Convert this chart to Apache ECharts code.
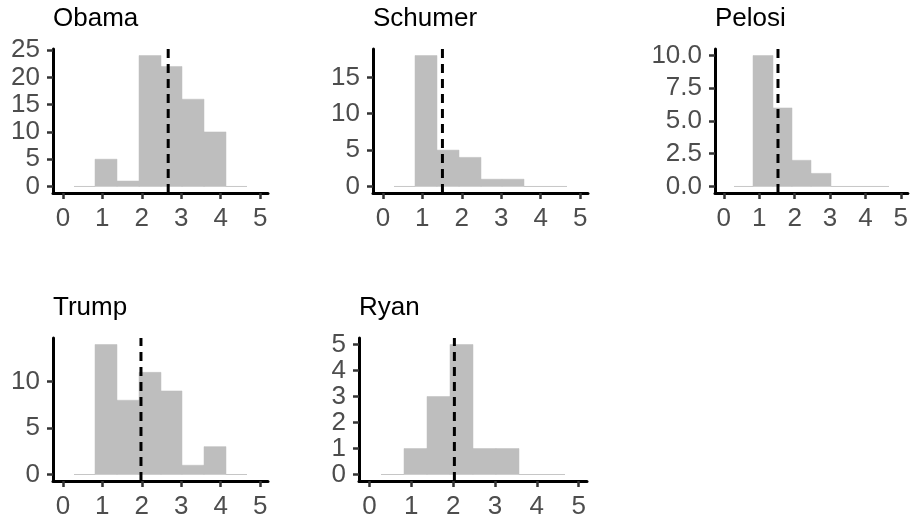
<!DOCTYPE html>
<html>
<head>
<meta charset="utf-8">
<script src="https://cdn.jsdelivr.net/npm/echarts@6/dist/echarts.min.js"></script>
<style>
  html, body { margin: 0; padding: 0; background: #ffffff; }
  #chart { width: 911px; height: 521px; }
</style>
</head>
<body>
<div id="chart"></div>
<script>
// Panel names and histogram data (bin edges shared by every panel)
const people = ['Obama', 'Schumer', 'Pelosi', 'Trump', 'Ryan'];
const binEdges = [0.275, 0.825, 1.375, 1.925, 2.475, 3.025, 3.575, 4.125, 4.675];
const obamaCounts   = [0, 5, 1, 24, 22, 16, 10, 0];
const schumerCounts = [0, 18, 5, 4, 1, 1, 0, 0];
const pelosiCounts  = [0, 10, 6, 2, 1, 0, 0, 0];
const trumpCounts   = [0, 14, 8, 11, 9, 1, 3, 0];
const ryanCounts    = [0, 1, 3, 5, 1, 1, 0, 0];
// Mean score per panel (dashed reference line)
const meanScores = [2.67, 1.51, 1.53, 1.98, 2.03];
// Tick labels
const xTicks = [0, 1, 2, 3, 4, 5];
const obamaYTicks   = [0, 5, 10, 15, 20, 25];
const schumerYTicks = [0, 5, 10, 15];
const pelosiYTicks  = [0, 2.5, 5, 7.5, 10];
const trumpYTicks   = [0, 5, 10];
const ryanYTicks    = [0, 1, 2, 3, 4, 5];

const allCounts = [obamaCounts, schumerCounts, pelosiCounts, trumpCounts, ryanCounts];
const allYTicks = [obamaYTicks, schumerYTicks, pelosiYTicks, trumpYTicks, ryanYTicks];
const yDecimals = [0, 0, 1, 0, 0];

// Panel placement in pixels
const panels = [
  { left: 53,  top: 49,  width: 215, height: 144 },
  { left: 373, top: 49,  width: 215, height: 144 },
  { left: 715, top: 49,  width: 193, height: 144 },
  { left: 53,  top: 338, width: 215, height: 143 },
  { left: 359, top: 338, width: 228, height: 143 }
];

const FONT = 'Liberation Sans, Arial, Helvetica, sans-serif';
const X_MIN = -0.25, X_MAX = 5.2;
const BAR_GREY = '#BEBEBE';

const grids = [], xAxes = [], yAxes = [], series = [], titles = [];

people.forEach((name, i) => {
  const p = panels[i];
  const counts = allCounts[i];
  const peak = Math.max(...counts);
  const yMin = -0.05 * peak, yMax = 1.05 * peak;

  grids.push({ left: p.left, top: p.top, width: p.width, height: p.height });

  titles.push({
    text: name,
    left: p.left,
    top: p.top - 43,
    padding: 0,
    textStyle: { fontFamily: FONT, fontSize: 26, fontWeight: 'normal', color: '#000000' }
  });

  xAxes.push({
    type: 'value', gridIndex: i, min: X_MIN, max: X_MAX,
    splitLine: { show: false },
    axisLine: { show: true, onZero: false, lineStyle: { color: '#000000', width: 3 } },
    axisTick: { show: true, length: 6, customValues: xTicks, lineStyle: { color: '#333333', width: 2.5 } },
    axisLabel: {
      show: true, customValues: xTicks, margin: 13,
      fontFamily: FONT, fontSize: 26, color: '#4D4D4D',
      formatter: v => String(v)
    }
  });

  const dec = yDecimals[i];
  yAxes.push({
    type: 'value', gridIndex: i, min: yMin, max: yMax,
    splitLine: { show: false },
    axisLine: { show: true, onZero: false, lineStyle: { color: '#000000', width: 3 } },
    axisTick: { show: true, length: 6, customValues: allYTicks[i], lineStyle: { color: '#333333', width: 2.5 } },
    axisLabel: {
      show: true, customValues: allYTicks[i], margin: 13,
      fontFamily: FONT, fontSize: 26, color: '#4D4D4D',
      formatter: v => Number(v).toFixed(dec)
    }
  });

  // Histogram bars: [bin start, bin end, count]
  const binData = counts.map((c, k) => [binEdges[k], binEdges[k + 1], c]);
  series.push({
    type: 'custom',
    xAxisIndex: i, yAxisIndex: i,
    encode: { x: [0, 1], y: 2 },
    data: binData,
    silent: true,
    renderItem: function (params, api) {
      const x0 = api.value(0), x1 = api.value(1), c = api.value(2);
      const a = api.coord([x0, 0]);
      const b = api.coord([x1, c]);
      // snap bin edges to whole pixels so neighbouring bars meet without seams
      const left = Math.round(a[0]), right = Math.round(b[0]);
      if (c === 0) {
        return {
          type: 'rect',
          shape: { x: left, y: a[1] - 0.5, width: right - left, height: 1 },
          style: { fill: '#c6c6c6' }
        };
      }
      return {
        type: 'rect',
        shape: { x: left, y: b[1], width: right - left, height: a[1] - b[1] },
        style: { fill: BAR_GREY, stroke: BAR_GREY, lineWidth: 0.5 }
      };
    },
    z: 2
  });

  // Dashed line at the mean, spanning the full panel height
  series.push({
    type: 'line',
    xAxisIndex: i, yAxisIndex: i,
    data: [[meanScores[i], yMin], [meanScores[i], yMax]],
    symbol: 'none',
    silent: true,
    clip: false,
    lineStyle: { color: '#000000', width: 3, type: [9, 6] },
    z: 3
  });
});

const chart = echarts.init(document.getElementById('chart'), null, { renderer: 'canvas' });
chart.setOption({
  animation: false,
  backgroundColor: '#ffffff',
  title: titles,
  grid: grids,
  xAxis: xAxes,
  yAxis: yAxes,
  series: series
});
</script>
</body>
</html>
